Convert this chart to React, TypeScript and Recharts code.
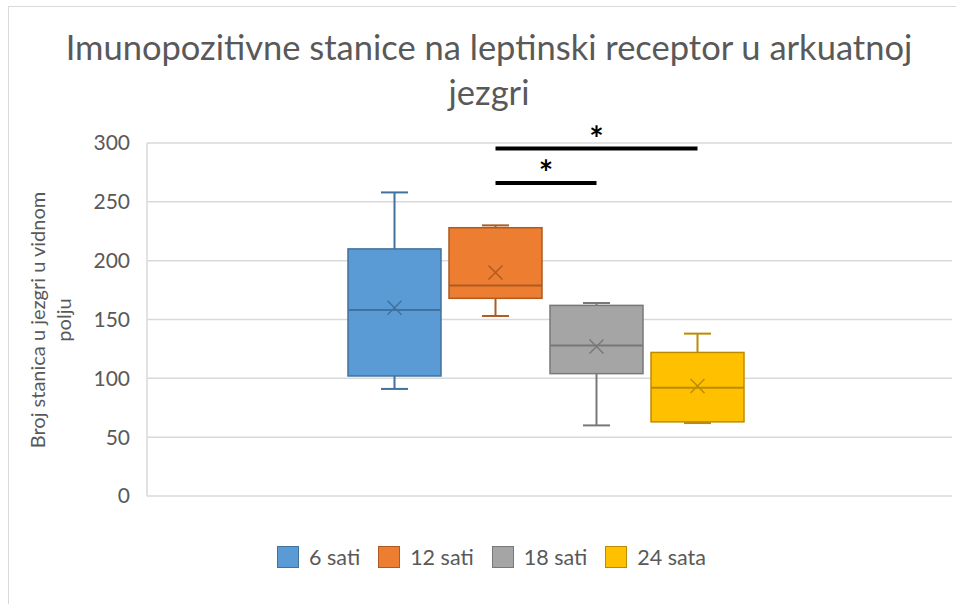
import React from "react";
import { ComposedChart, Bar, XAxis, YAxis, CartesianGrid, ReferenceLine } from "recharts";

// box-plot statistics per group
const GROUPS = ["6 sati", "12 sati", "18 sati", "24 sata"];
const MINS = [91, 153, 60, 62];
const Q1S = [102, 168, 104, 63];
const MEDIANS = [158, 179, 128, 92];
const MEANS = [160, 190, 127, 93.5];
const Q3S = [210, 228, 162, 122];
const MAXS = [258, 230, 164, 138];
const Y_TICKS = [0, 50, 100, 150, 200, 250, 300];

// significance bars (from group, to group, height in axis units)
const SIG_FROM = ["12 sati", "12 sati"];
const SIG_TO = ["18 sati", "24 sata"];
const SIG_Y = [266, 295.3];

const FILLS = ["#5B9BD5", "#ED7D31", "#A5A5A5", "#FFC000"];
const EDGES = ["#41719C", "#AE5A21", "#787878", "#BC8C00"];
const TEXT = "#595959";
const FONT = "Lato, 'Open Sans', sans-serif";

const data = GROUPS.map((g, i) => ({
  group: g,
  min: MINS[i],
  q1: Q1S[i],
  median: MEDIANS[i],
  mean: MEANS[i],
  q3: Q3S[i],
  max: MAXS[i],
  range: [MINS[i], MAXS[i]],
}));

function BoxShape(props: any) {
  const { x, y, width, height, index, payload } = props;
  const top = Math.min(y, y + height);
  const h = Math.abs(height);
  const k = h / (payload.max - payload.min);
  const toY = (v: number) => top + (payload.max - v) * k;
  const cx = x + width / 2;
  const edge = EDGES[index];
  const cap = 13.5;
  const m = 7;
  const yq1 = toY(payload.q1);
  const yq3 = toY(payload.q3);
  const ym = toY(payload.mean);
  return (
    <g>
      <line x1={cx} x2={cx} y1={toY(payload.max)} y2={yq3} stroke={edge} strokeWidth={2} />
      <line x1={cx} x2={cx} y1={yq1} y2={toY(payload.min)} stroke={edge} strokeWidth={2} />
      <line x1={cx - cap} x2={cx + cap} y1={toY(payload.max)} y2={toY(payload.max)} stroke={edge} strokeWidth={2} />
      <line x1={cx - cap} x2={cx + cap} y1={toY(payload.min)} y2={toY(payload.min)} stroke={edge} strokeWidth={2} />
      <rect x={x} y={yq3} width={width} height={yq1 - yq3} fill={FILLS[index]} stroke={edge} strokeWidth={1.5} />
      <line x1={x} x2={x + width} y1={toY(payload.median)} y2={toY(payload.median)} stroke={edge} strokeWidth={2} />
      <line x1={cx - m} x2={cx + m} y1={ym - m} y2={ym + m} stroke={edge} strokeWidth={1.5} />
      <line x1={cx - m} x2={cx + m} y1={ym + m} y2={ym - m} stroke={edge} strokeWidth={1.5} />
    </g>
  );
}

export default function App() {
  return (
    <div
      style={{
        position: "absolute",
        left: 0,
        top: 0,
        width: 956,
        height: 604,
        overflow: "hidden",
        background: "#fff",
        fontFamily: FONT,
      }}
    >
      {/* chart border */}
      <div
        style={{
          position: "absolute",
          left: 8,
          top: 6,
          width: 1000,
          height: 700,
          border: "1px solid #D9D9D9",
        }}
      />
      {/* title */}
      <div
        style={{
          position: "absolute",
          left: 0,
          top: 24,
          width: 978,
          textAlign: "center",
          fontSize: 34.5,
          lineHeight: "45px",
          color: TEXT,
        }}
      >
        Imunopozitivne stanice na leptinski receptor u arkuatnoj
        <br />
        jezgri
      </div>
      {/* y axis title */}
      <svg
        width={120}
        height={604}
        style={{ position: "absolute", left: 0, top: 0 }}
      >
        <text
          transform="rotate(-90, 50, 320)"
          textAnchor="middle"
          fontSize={20}
          fill={TEXT}
          fontFamily={FONT}
        >
          <tspan x={50} y={315}>Broj stanica u jezgri u vidnom</tspan>
          <tspan x={50} y={341}>polju</tspan>
        </text>
      </svg>
      <div style={{ position: "absolute", left: 0, top: 0 }}>
        <ComposedChart
          width={956}
          height={604}
          data={data}
          margin={{ top: 143, right: 4, bottom: 108, left: 87 }}
        >
          <CartesianGrid vertical={false} stroke="#D9D9D9" strokeWidth={1.5} />
          <XAxis
            dataKey="group"
            type="category"
            height={0}
            tick={false}
            tickLine={false}
            axisLine={{ stroke: "#D9D9D9", strokeWidth: 1.5 }}
            padding={{ left: 197, right: 204 }}
          />
          <YAxis
            width={60}
            domain={[0, 300]}
            ticks={Y_TICKS}
            tickSize={0}
            tickMargin={17}
            tickLine={false}
            axisLine={{ stroke: "#D9D9D9", strokeWidth: 1.5 }}
            tick={{ fontSize: 21, fill: TEXT, fontFamily: FONT }}
          />
          <Bar
            dataKey="range"
            barSize={93}
            shape={<BoxShape />}
            isAnimationActive={false}
          />
          {SIG_Y.map((v, i) => (
            <ReferenceLine
              key={i}
              segment={[
                { x: SIG_FROM[i], y: v },
                { x: SIG_TO[i], y: v },
              ]}
              stroke="#000"
              strokeWidth={4}
              label={{
                value: "*",
                position: "top",
                offset: -2,
                fill: "#000",
                fontSize: 34,
                fontWeight: "bold",
                fontFamily: FONT,
              }}
            />
          ))}
        </ComposedChart>
      </div>
      {/* legend */}
      <div
        style={{
          position: "absolute",
          left: 0,
          top: 545,
          width: 983,
          height: 23,
          display: "flex",
          justifyContent: "center",
          alignItems: "center",
          gap: 18,
          fontSize: 21.5,
          color: TEXT,
        }}
      >
        {GROUPS.map((g, i) => (
          <div key={g} style={{ display: "flex", alignItems: "center" }}>
            <span
              style={{
                width: 20,
                height: 20,
                background: FILLS[i],
                border: `1px solid ${EDGES[i]}`,
                marginRight: 10,
              }}
            />
            <span>{g}</span>
          </div>
        ))}
      </div>
    </div>
  );
}
